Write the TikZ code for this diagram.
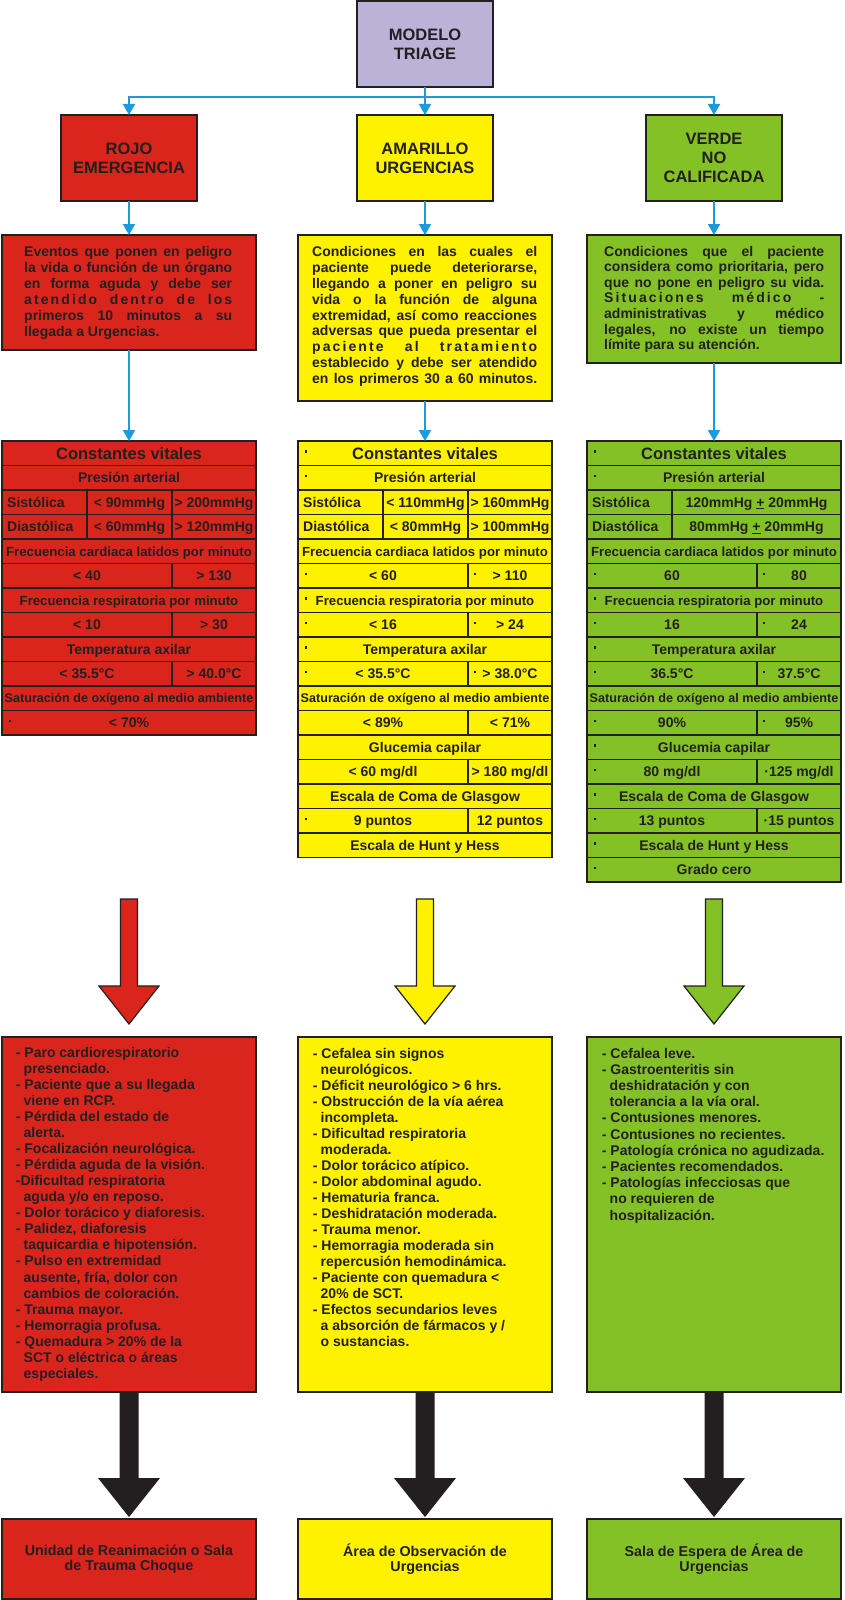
\documentclass[tikz,border=0pt]{standalone}
\usepackage{fontspec}
\setmainfont{Liberation Sans}
\usetikzlibrary{arrows.meta}
\definecolor{rojo}{RGB}{218,37,29}
\definecolor{amarillo}{RGB}{255,242,0}
\definecolor{verde}{RGB}{132,193,38}
\definecolor{lila}{RGB}{186,178,215}
\definecolor{azul}{RGB}{27,154,222}
\definecolor{tinta}{RGB}{35,31,32}
\newcounter{tn}
\newcommand\fsz[2]{\fontsize{#1}{#2}\selectfont\bfseries}
% table helpers: #1 = left x, #2 = row
\newcommand\cfull[3]{\stepcounter{tn}\node[ttext] (t\arabic{tn}) at (#1+127,441+24.5*#2+17.25) {#3};}
\newcommand\cfulls[4]{\stepcounter{tn}\node[ttext,font=\fsz{#3}{#3}] (t\arabic{tn}) at (#1+127,441+24.5*#2+12.25+0.36*#3) {#4};}
\newcommand\ctwo[4]{\draw[grid] (#1+170,441+24.5*#2) -- ++(0,24.5);
  \stepcounter{tn}\node[ttext] (t\arabic{tn}) at (#1+85,441+24.5*#2+17.25) {#3};
  \stepcounter{tn}\node[ttext] (t\arabic{tn}) at (#1+212,441+24.5*#2+17.25) {#4};}
\newcommand\cthree[5]{\draw[grid] (#1+85,441+24.5*#2) -- ++(0,24.5);
  \draw[grid] (#1+170,441+24.5*#2) -- ++(0,24.5);
  \stepcounter{tn}\node[ttext,anchor=base west] (t\arabic{tn}) at (#1+5,441+24.5*#2+17.25) {#3};
  \stepcounter{tn}\node[ttext] (t\arabic{tn}) at (#1+127.5,441+24.5*#2+17.25) {#4};
  \stepcounter{tn}\node[ttext] (t\arabic{tn}) at (#1+212,441+24.5*#2+17.25) {#5};}
\newcommand\clv[4]{\draw[grid] (#1+85,441+24.5*#2) -- ++(0,24.5);
  \stepcounter{tn}\node[ttext,anchor=base west] (t\arabic{tn}) at (#1+5,441+24.5*#2+17.25) {#3};
  \stepcounter{tn}\node[ttext] (t\arabic{tn}) at (#1+169.5,441+24.5*#2+17.25) {#4};}
\newcommand\bul[2]{\fill[tinta] (#1,441+24.5*#2+9.3) rectangle ++(2.4,2.4);}
\newcommand\hlines[2]{\foreach \k in {1,...,#2}{\draw[grid] (#1,441+24.5*\k) -- ++(254,0);}}
% description lines
\newcommand\jl[4]{\stepcounter{tn}\node[dtext] (d\arabic{tn}) at (#1,#2) {\makebox[#3pt][s]{#4}};}
\newcommand\jsp[4]{\stepcounter{tn}\node[dtext] (d\arabic{tn}) at (#1,#2) {\makebox[#3pt][s]{\addfontfeature{LetterSpace=15}#4}};}
\newcommand\dl[3]{\stepcounter{tn}\node[dtext] (d\arabic{tn}) at (#1,#2) {#3};}
\newcommand\ind{\hspace*{7.8pt}}
% arrows
\newcommand\fatarrow[2]{\draw[draw=tinta,line width=1.2pt,fill=#2,line join=miter]
  (#1-8.5,899) -- (#1+8.5,899) -- (#1+8.5,986) -- (#1+30,986) -- (#1,1024) -- (#1-30,986) -- (#1-8.5,986) -- cycle;}
\begin{document}
\begin{tikzpicture}[x=1pt,y=-1pt,
  caja/.style={draw=tinta,line width=1.6pt,inner sep=0pt,outer sep=0pt,anchor=north west,text=tinta,align=center},
  head/.style={caja,minimum width=136pt,minimum height=86pt,font=\fsz{16.5}{19}},
  panel/.style={caja,minimum width=254pt},
  blu/.style={draw=azul,line width=2pt,-{Triangle[width=12pt,length=11pt]}},
  bline/.style={draw=azul,line width=2pt},
  grid/.style={draw=tinta,line width=1.2pt},
  ttext/.style={anchor=base,inner sep=0pt,text=tinta,font=\fsz{14}{14}},
  dtext/.style={anchor=base west,inner sep=0pt,text=tinta,font=\fsz{14}{16}},
  dest/.style={panel,minimum height=80pt,font=\fsz{14.3}{15.3}}]
\useasboundingbox (0,0) rectangle (844,1600);
\fill[white] (0,0) rectangle (844,1600);

% ---------- top ----------
\node[head,fill=lila] (modelo) at (357,1) {MODELO\\TRIAGE};
\node[head,fill=rojo] (rojo) at (61,115) {ROJO\\EMERGENCIA};
\node[head,fill=amarillo] (amar) at (357,115) {AMARILLO\\URGENCIAS};
\node[head,fill=verde] (verde) at (646,115) {VERDE\\NO\\CALIFICADA};
\coordinate (hub) at (425,97);
\draw[bline] (modelo.south) -- (hub);
\draw[blu] (hub) -| (rojo.north);
\draw[blu] (hub) -| (verde.north);
\draw[blu] (hub) -- (amar.north);

% ---------- descriptions ----------
\node[panel,fill=rojo,minimum height=115pt] (rdesc) at (2,235) {};
\node[panel,fill=amarillo,minimum height=166pt] (ydesc) at (298,235) {};
\node[panel,fill=verde,minimum height=128pt] (gdesc) at (587,235) {};
\draw[blu] (rojo.south) -- (rdesc.north);
\draw[blu] (amar.south) -- (ydesc.north);
\draw[blu] (verde.south) -- (gdesc.north);

\jl{24}{256}{208}{Eventos que ponen en peligro}
\jl{24}{272}{208}{la vida o función de un órgano}
\jl{24}{288}{208}{en forma aguda y debe ser}
\jsp{24}{304}{208}{atendido dentro de los}
\jl{24}{320}{208}{primeros 10 minutos a su}
\dl{24}{336}{llegada a Urgencias.}

\jl{312}{256.7}{225}{Condiciones en las cuales el}
\jl{312}{272.5}{225}{paciente puede deteriorarse,}
\jl{312}{288.4}{225}{llegando a poner en peligro su}
\jl{312}{304.2}{225}{vida o la función de alguna}
\jl{312}{320.1}{225}{extremidad, así como reacciones}
\jl{312}{335.9}{225}{adversas que pueda presentar el}
\jsp{312}{351.8}{225}{paciente al tratamiento}
\jl{312}{367.6}{225}{establecido y debe ser atendido}
\jl{312}{383.5}{225}{en los primeros 30 a 60 minutos.}

\jl{604}{256}{220}{Condiciones que el paciente}
\jl{604}{271.6}{220}{considera como prioritaria, pero}
\jl{604}{287.2}{220}{que no pone en peligro su vida.}
\jsp{604}{302.8}{220}{Situaciones médico -}
\jl{604}{318.4}{220}{administrativas y médico}
\jl{604}{334}{220}{legales, no existe un tiempo}
\dl{604}{349.6}{límite para su atención.}

% ---------- tables ----------
\node[panel,fill=rojo,minimum height=294pt] (rtab) at (2,441) {};
\node[panel,fill=amarillo,minimum height=416.5pt] (ytab) at (298,441) {};
\node[panel,fill=verde,minimum height=441pt] (gtab) at (587,441) {};
\draw[blu] (rdesc.south) -- (rtab.north);
\draw[blu] (ydesc.south) -- (ytab.north);
\draw[blu] (gdesc.south) -- (gtab.north);

% red table
\hlines{2}{11}
\cfulls{2}{0}{16.5}{Constantes vitales}
\cfull{2}{1}{Presión arterial}
\cthree{2}{2}{Sistólica}{< 90mmHg}{> 200mmHg}
\cthree{2}{3}{Diastólica}{< 60mmHg}{> 120mmHg}
\cfulls{2}{4}{13.2}{Frecuencia cardiaca latidos por minuto}
\ctwo{2}{5}{< 40}{> 130}
\cfulls{2}{6}{13.2}{Frecuencia respiratoria por minuto}
\ctwo{2}{7}{< 10}{> 30}
\cfull{2}{8}{Temperatura axilar}
\ctwo{2}{9}{< 35.5°C}{> 40.0°C}
\cfulls{2}{10}{12.6}{Saturación de oxígeno al medio ambiente}
\cfull{2}{11}{< 70\%}
\bul{9}{11}

% yellow table
\hlines{298}{16}
\cfulls{298}{0}{16.5}{Constantes vitales}
\cfull{298}{1}{Presión arterial}
\cthree{298}{2}{Sistólica}{< 110mmHg}{> 160mmHg}
\cthree{298}{3}{Diastólica}{< 80mmHg}{> 100mmHg}
\cfulls{298}{4}{13.2}{Frecuencia cardiaca latidos por minuto}
\ctwo{298}{5}{< 60}{> 110}
\cfulls{298}{6}{13.2}{Frecuencia respiratoria por minuto}
\ctwo{298}{7}{< 16}{> 24}
\cfull{298}{8}{Temperatura axilar}
\ctwo{298}{9}{< 35.5°C}{> 38.0°C}
\cfulls{298}{10}{12.6}{Saturación de oxígeno al medio ambiente}
\ctwo{298}{11}{< 89\%}{< 71\%}
\cfull{298}{12}{Glucemia capilar}
\ctwo{298}{13}{< 60 mg/dl}{> 180 mg/dl}
\cfull{298}{14}{Escala de Coma de Glasgow}
\ctwo{298}{15}{9 puntos}{12 puntos}
\cfull{298}{16}{Escala de Hunt y Hess}
\foreach \r in {0,1,5,6,7,8,9,15}{\bul{305}{\r}}
\foreach \r in {5,7,9}{\bul{474}{\r}}

% green table
\hlines{587}{17}
\cfulls{587}{0}{16.5}{Constantes vitales}
\cfull{587}{1}{Presión arterial}
\clv{587}{2}{Sistólica}{120mmHg \underline{+} 20mmHg}
\clv{587}{3}{Diastólica}{80mmHg \underline{+} 20mmHg}
\cfulls{587}{4}{13.2}{Frecuencia cardiaca latidos por minuto}
\ctwo{587}{5}{60}{80}
\cfulls{587}{6}{13.2}{Frecuencia respiratoria por minuto}
\ctwo{587}{7}{16}{24}
\cfull{587}{8}{Temperatura axilar}
\ctwo{587}{9}{36.5°C}{37.5°C}
\cfulls{587}{10}{12.6}{Saturación de oxígeno al medio ambiente}
\ctwo{587}{11}{90\%}{95\%}
\cfull{587}{12}{Glucemia capilar}
\ctwo{587}{13}{80 mg/dl}{·125 mg/dl}
\cfull{587}{14}{Escala de Coma de Glasgow}
\ctwo{587}{15}{13 puntos}{·15 puntos}
\cfull{587}{16}{Escala de Hunt y Hess}
\cfull{587}{17}{Grado cero}
\foreach \r in {0,1,5,6,7,8,9,11,12,13,14,15,16,17}{\bul{594}{\r}}
\foreach \r in {5,7,9,11}{\bul{763}{\r}}

% ---------- coloured arrows ----------
\fatarrow{129}{rojo}
\fatarrow{425}{amarillo}
\fatarrow{714}{verde}

% ---------- lists ----------
\node[panel,fill=rojo,minimum height=355pt] (rlist) at (2,1037) {};
\node[panel,fill=amarillo,minimum height=355pt] (ylist) at (298,1037) {};
\node[panel,fill=verde,minimum height=355pt] (glist) at (587,1037) {};

\foreach \t [count=\i from 0] in {{- Paro cardiorespiratorio},{\ind presenciado.},{- Paciente que a su llegada},{\ind viene en RCP.},{- Pérdida del estado de},{\ind alerta.},{- Focalización neurológica.},{- Pérdida aguda de la visión.},{-Dificultad respiratoria},{\ind aguda y/o en reposo.},{- Dolor torácico y diaforesis.},{- Palidez, diaforesis},{\ind taquicardia e hipotensión.},{- Pulso en extremidad},{\ind ausente, fría, dolor con},{\ind cambios de coloración.},{- Trauma mayor.},{- Hemorragia profusa.},{- Quemadura > 20\% de la},{\ind SCT o eléctrica o áreas},{\ind especiales.}}
  {\node[dtext] (rl\i) at (15.7,1057.3+16.05*\i) {\t};}

\foreach \t [count=\i from 0] in {{- Cefalea sin signos},{\ind neurológicos.},{- Déficit neurológico > 6 hrs.},{- Obstrucción de la vía aérea},{\ind incompleta.},{- Dificultad respiratoria},{\ind moderada.},{- Dolor torácico atípico.},{- Dolor abdominal agudo.},{- Hematuria franca.},{- Deshidratación moderada.},{- Trauma menor.},{- Hemorragia moderada sin},{\ind repercusión hemodinámica.},{- Paciente con quemadura <},{\ind 20\% de SCT.},{- Efectos secundarios leves},{\ind a absorción de fármacos y /},{\ind o sustancias.}}
  {\node[dtext] (yl\i) at (312.7,1058+16.05*\i) {\t};}

\foreach \t [count=\i from 0] in {{- Cefalea leve.},{- Gastroenteritis sin},{\ind deshidratación y con},{\ind tolerancia a la vía oral.},{- Contusiones menores.},{- Contusiones no recientes.},{- Patología crónica no agudizada.},{- Pacientes recomendados.},{- Patologías infecciosas que},{\ind no requieren de},{\ind hospitalización.}}
  {\node[dtext] (gl\i) at (601.7,1058+16.2*\i) {\t};}

% ---------- destinations ----------
\node[dest,fill=rojo] (rdest) at (2,1519) {Unidad de Reanimación o Sala\\de Trauma Choque};
\node[dest,fill=amarillo] (ydest) at (298,1519) {Área de Observación de\\Urgencias};
\node[dest,fill=verde] (gdest) at (587,1519) {Sala de Espera de Área de\\Urgencias};

\foreach \a/\b in {rlist/rdest,ylist/ydest,glist/gdest}{
  \fill[tinta] ([xshift=-9.5pt]\a.south) -- ([xshift=9.5pt]\a.south)
    -- ([xshift=9.5pt,yshift=-86pt]\a.south) -- ([xshift=31pt,yshift=-86pt]\a.south)
    -- ([yshift=2pt]\b.north) -- ([xshift=-31pt,yshift=-86pt]\a.south)
    -- ([xshift=-9.5pt,yshift=-86pt]\a.south) -- cycle;}
\end{tikzpicture}
\end{document}
